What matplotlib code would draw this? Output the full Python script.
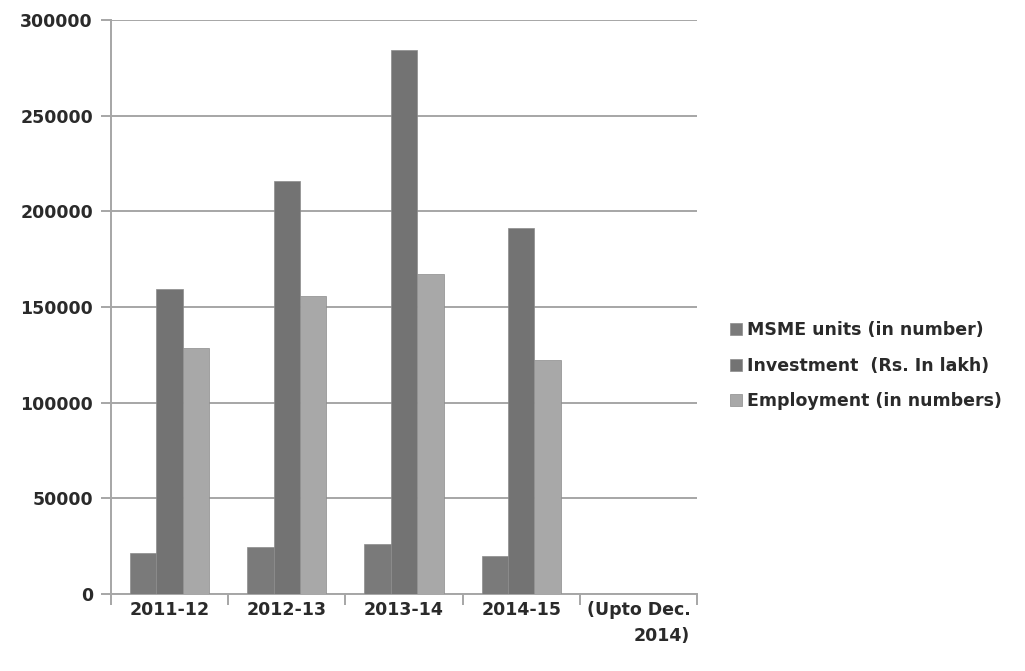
import matplotlib
matplotlib.use("Agg")
import matplotlib.pyplot as plt
import numpy as np

# values
years = ["2011-12", "2012-13", "2013-14", "2014-15", "(Upto Dec.\n2014)"]
msme_units = [21300, 24400, 26000, 19900, 0]
investment = [159400, 215800, 284100, 191100, 0]
employment = [128400, 155600, 167100, 122100, 0]
series_names = ["MSME units (in number)", "Investment  (Rs. In lakh)", "Employment (in numbers)"]
y_ticks = [0, 50000, 100000, 150000, 200000, 250000, 300000]

colors = ["#7a7a7a", "#737373", "#a8a8a8"]
text_color = "#2a2a2a"
grid_color = "#a6a6a6"

plt.rcParams['font.family'] = ['DejaVu Sans']
plt.rcParams['font.weight'] = 'bold'

fig = plt.figure(figsize=(10.25, 6.71), dpi=100)
ax = fig.add_axes([0.1083, 0.1148, 0.5717, 0.8554])

n = len(years)
centers = np.arange(n) + 0.5
w = 0.225
bars = []
for k, vals in enumerate([msme_units, investment, employment]):
    vals = np.array(vals)
    has = vals > 0
    b = ax.bar(centers[has] + (k - 1) * w, vals[has], width=w, color=colors[k],
               edgecolor="#8c8c8c", linewidth=0.5, zorder=3, label=series_names[k])
    bars.append(b)

ax.set_xlim(0, n)
ax.set_ylim(0, 300000)
ax.set_yticks(y_ticks)
ax.set_yticklabels([str(t) for t in y_ticks])
ax.yaxis.grid(True, color=grid_color, linewidth=1.4, zorder=0)
ax.set_axisbelow(True)

# category boundaries as ticks, labels centred in between
ax.set_xticks(np.arange(n + 1))
ax.set_xticklabels([])
ax.set_xticks(centers, minor=True)
ax.set_xticklabels(years, minor=True, fontsize=12.5, color=text_color,
                   multialignment="right", linespacing=1.55)
ax.tick_params(axis="x", which="minor", length=0, pad=5)
ax.tick_params(axis="x", which="major", length=8, width=1.4, color=grid_color, direction="out")
ax.tick_params(axis="y", length=7, width=1.4, color=grid_color, direction="out",
               labelsize=12.5, labelcolor=text_color, pad=6)

for side in ["top", "right"]:
    ax.spines[side].set_visible(False)
for side in ["left", "bottom"]:
    ax.spines[side].set_color(grid_color)
    ax.spines[side].set_linewidth(1.4)

leg = fig.legend(handles=bars, loc="center left", bbox_to_anchor=(0.705, 0.455),
                 frameon=False, fontsize=12.5, handlelength=0.7, handleheight=0.7,
                 handletextpad=0.3, labelspacing=1.0, borderaxespad=0)
for t in leg.get_texts():
    t.set_color(text_color)

fig.savefig("out.png", dpi=100)
